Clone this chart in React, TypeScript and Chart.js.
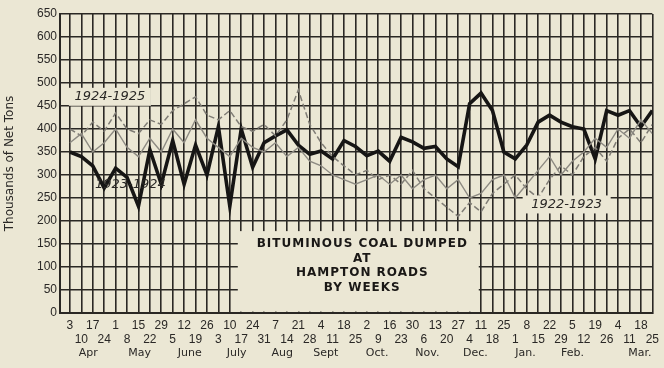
import React, { useEffect, useRef } from "react";
import { Chart, registerables } from "chart.js";

Chart.register(...registerables);

// Week-ending dates (April 3 .. March 25), one per week
const weekLabels = [
  "3", "10", "17", "24", "1", "8", "15", "22", "29", "5", "12", "19", "26",
  "3", "10", "17", "24", "31", "7", "14", "21", "28", "4", "11", "18", "25",
  "2", "9", "16", "23", "30", "6", "13", "20", "27", "4", "11", "18", "25",
  "1", "8", "15", "22", "29", "5", "12", "19", "26", "4", "11", "18", "25",
];

const monthLabels = ["Apr", "May", "June", "July", "Aug", "Sept", "Oct.", "Nov.", "Dec.", "Jan.", "Feb.", "Mar."];
const monthAt = [1.6, 6.1, 10.5, 14.6, 18.6, 22.4, 26.9, 31.3, 35.5, 39.9, 44.0, 49.9];

const yTicks = [0, 50, 100, 150, 200, 250, 300, 350, 400, 450, 500, 550, 600, 650];

// Thousands of net tons
const coal1923_24 = [
  350, 340, 320, 272, 315, 295, 232, 355, 280, 375, 280, 365, 300,
  405, 232, 400, 317, 370, 385, 398, 365, 345, 352, 335, 375, 362,
  342, 352, 330, 382, 372, 358, 362, 335, 318, 455, 478, 440, 350,
  335, 365, 415, 430, 415, 405, 400, 335, 440, 430, 440, 405, 440,
];

const coal1924_25 = [
  400, 385, 415, 395, 435, 400, 390, 420, 410, 440, 455, 470, 430,
  420, 440, 405, 395, 410, 385, 420, 485, 410, 370, 340, 320, 300,
  310, 290, 300, 280, 310, 270, 250, 230, 210, 240, 220, 260, 280,
  300, 270, 250, 290, 320, 300, 340, 360, 330, 380, 400, 370, 410,
];

const coal1922_23 = [
  370, 390, 350, 370, 400, 360, 340, 380, 350, 400, 370, 420, 380,
  360, 340, 380, 360, 350, 370, 340, 360, 330, 320, 300, 290, 280,
  290, 300, 280, 300, 270, 290, 300, 270, 290, 250, 260, 290, 300,
  250, 280, 310, 340, 300, 330, 350, 380, 360, 400, 380, 420, 390,
];

const titleLines = ["BITUMINOUS COAL DUMPED", "AT", "HAMPTON ROADS", "BY WEEKS"];

const PAPER = "#ebe7d4";
const INK = "#2a2824";

const decor = {
  id: "decor",
  beforeDraw(chart: any) {
    const { ctx, width, height } = chart;
    ctx.save();
    ctx.fillStyle = PAPER;
    ctx.fillRect(0, 0, width, height);
    ctx.restore();
  },
  beforeDatasetsDraw(chart: any) {
    const { ctx } = chart;
    const x = chart.scales.x;
    const y = chart.scales.y;
    // title panel
    const l = x.getPixelForValue(14.7);
    const r = x.getPixelForValue(35.8);
    const t = y.getPixelForValue(178);
    const b = y.getPixelForValue(3);
    ctx.save();
    ctx.fillStyle = PAPER;
    ctx.fillRect(l, t, r - l, b - t);
    ctx.fillStyle = "#1a1816";
    ctx.textAlign = "center";
    ctx.textBaseline = "middle";
    ctx.font = "bold 12px 'DejaVu Sans'";
    (ctx as any).letterSpacing = "1px";
    const cx = (l + r) / 2 + 4;
    titleLines.forEach((line, i) => {
      ctx.fillText(line, cx, t + 13 + i * 14.5);
    });
    ctx.restore();
  },
  afterDatasetsDraw(chart: any) {
    const { ctx } = chart;
    const x = chart.scales.x;
    const y = chart.scales.y;
    const box = (label: string, wx: number, vy: number, w: number, boxed: boolean) => {
      const px = x.getPixelForValue(wx);
      const py = y.getPixelForValue(vy);
      ctx.save();
      if (boxed) {
        ctx.fillStyle = PAPER;
        ctx.fillRect(px - w / 2, py - 9, w, 18);
      }
      ctx.fillStyle = "#2a2826";
      ctx.textAlign = "center";
      ctx.textBaseline = "middle";
      ctx.font = "italic 13px 'DejaVu Sans'";
      ctx.fillText(label, px, py);
      ctx.restore();
    };
    box("1924-1925", 3.5, 470, 82, true);
    box("1922-1923", 43.5, 236, 88, true);
    box("1923-1924", 5.3, 278, 0, false);
  },
  afterDraw(chart: any) {
    const { ctx, chartArea } = chart;
    const x = chart.scales.x;
    ctx.save();
    ctx.fillStyle = "#2a2826";
    ctx.textAlign = "center";
    ctx.textBaseline = "middle";
    ctx.font = "11px 'DejaVu Sans'";
    monthLabels.forEach((m, i) => {
      ctx.fillText(m, x.getPixelForValue(monthAt[i]), chartArea.bottom + 40);
    });
    ctx.restore();
  },
};

export default function App() {
  const ref = useRef<HTMLCanvasElement | null>(null);

  useEffect(() => {
    document.body.style.margin = "0";
    document.body.style.background = PAPER;
    const canvas = ref.current;
    if (!canvas) return;
    const pts = (arr: number[]) => arr.map((v, i) => ({ x: i, y: v }));
    const chart = new Chart(canvas, {
      type: "line",
      data: {
        datasets: [
          {
            label: "1922-1923",
            data: pts(coal1922_23),
            borderColor: "#8d8a82",
            borderWidth: 1.4,
            pointRadius: 0,
            tension: 0,
          },
          {
            label: "1924-1925",
            data: pts(coal1924_25),
            borderColor: "#7f7c75",
            borderWidth: 1.5,
            borderDash: [6, 3],
            pointRadius: 0,
            tension: 0,
          },
          {
            label: "1923-1924",
            data: pts(coal1923_24),
            borderColor: "#161514",
            borderWidth: 3.6,
            pointRadius: 0,
            tension: 0,
            borderJoinStyle: "miter",
          },
        ],
      },
      options: {
        responsive: false,
        animation: false,
        events: [],
        layout: { padding: { top: 14, right: 10, left: 0, bottom: 0 } },
        plugins: {
          legend: { display: false },
          tooltip: { enabled: false },
          title: { display: false },
        },
        scales: {
          x: {
            type: "linear",
            min: -0.87,
            max: 51,
            afterBuildTicks: (scale: any) => {
              scale.ticks = weekLabels.map((_, i) => ({ value: i }));
            },
            afterFit: (scale: any) => {
              scale.height = 55;
            },
            ticks: {
              autoSkip: false,
              maxRotation: 0,
              minRotation: 0,
              padding: 5,
              color: "#2a2826",
              font: { family: "'Liberation Sans', Arial, sans-serif", size: 12, lineHeight: 1.2 },
              callback: (value: any) => {
                const i = Math.round(Number(value));
                const lab = weekLabels[i] ?? "";
                return i % 2 === 0 ? [lab] : ["", lab];
              },
            },
            grid: { color: INK, lineWidth: 1.6, drawTicks: false },
            border: { color: INK, width: 2 },
          },
          y: {
            min: 0,
            max: 650,
            afterBuildTicks: (scale: any) => {
              scale.ticks = yTicks.map((v) => ({ value: v }));
            },
            afterFit: (scale: any) => {
              scale.width = 60;
            },
            ticks: {
              padding: 3,
              color: "#2a2826",
              font: { family: "'Liberation Sans', Arial, sans-serif", size: 12 },
              callback: (v: any) => String(v),
            },
            grid: { color: INK, lineWidth: 1.6, drawTicks: false },
            border: { color: INK, width: 2 },
            title: {
              display: true,
              text: "Thousands of Net Tons",
              color: "#2a2826",
              font: { family: "'DejaVu Sans', sans-serif", size: 12 },
              padding: { top: 3, bottom: 0 },
            },
          },
        },
      },
      plugins: [decor],
    } as any);
    return () => chart.destroy();
  }, []);

  return (
    <div style={{ position: "absolute", left: 0, top: 0, width: 664, height: 368, background: PAPER }}>
      <canvas ref={ref} width={664} height={368} style={{ display: "block" }} />
    </div>
  );
}
